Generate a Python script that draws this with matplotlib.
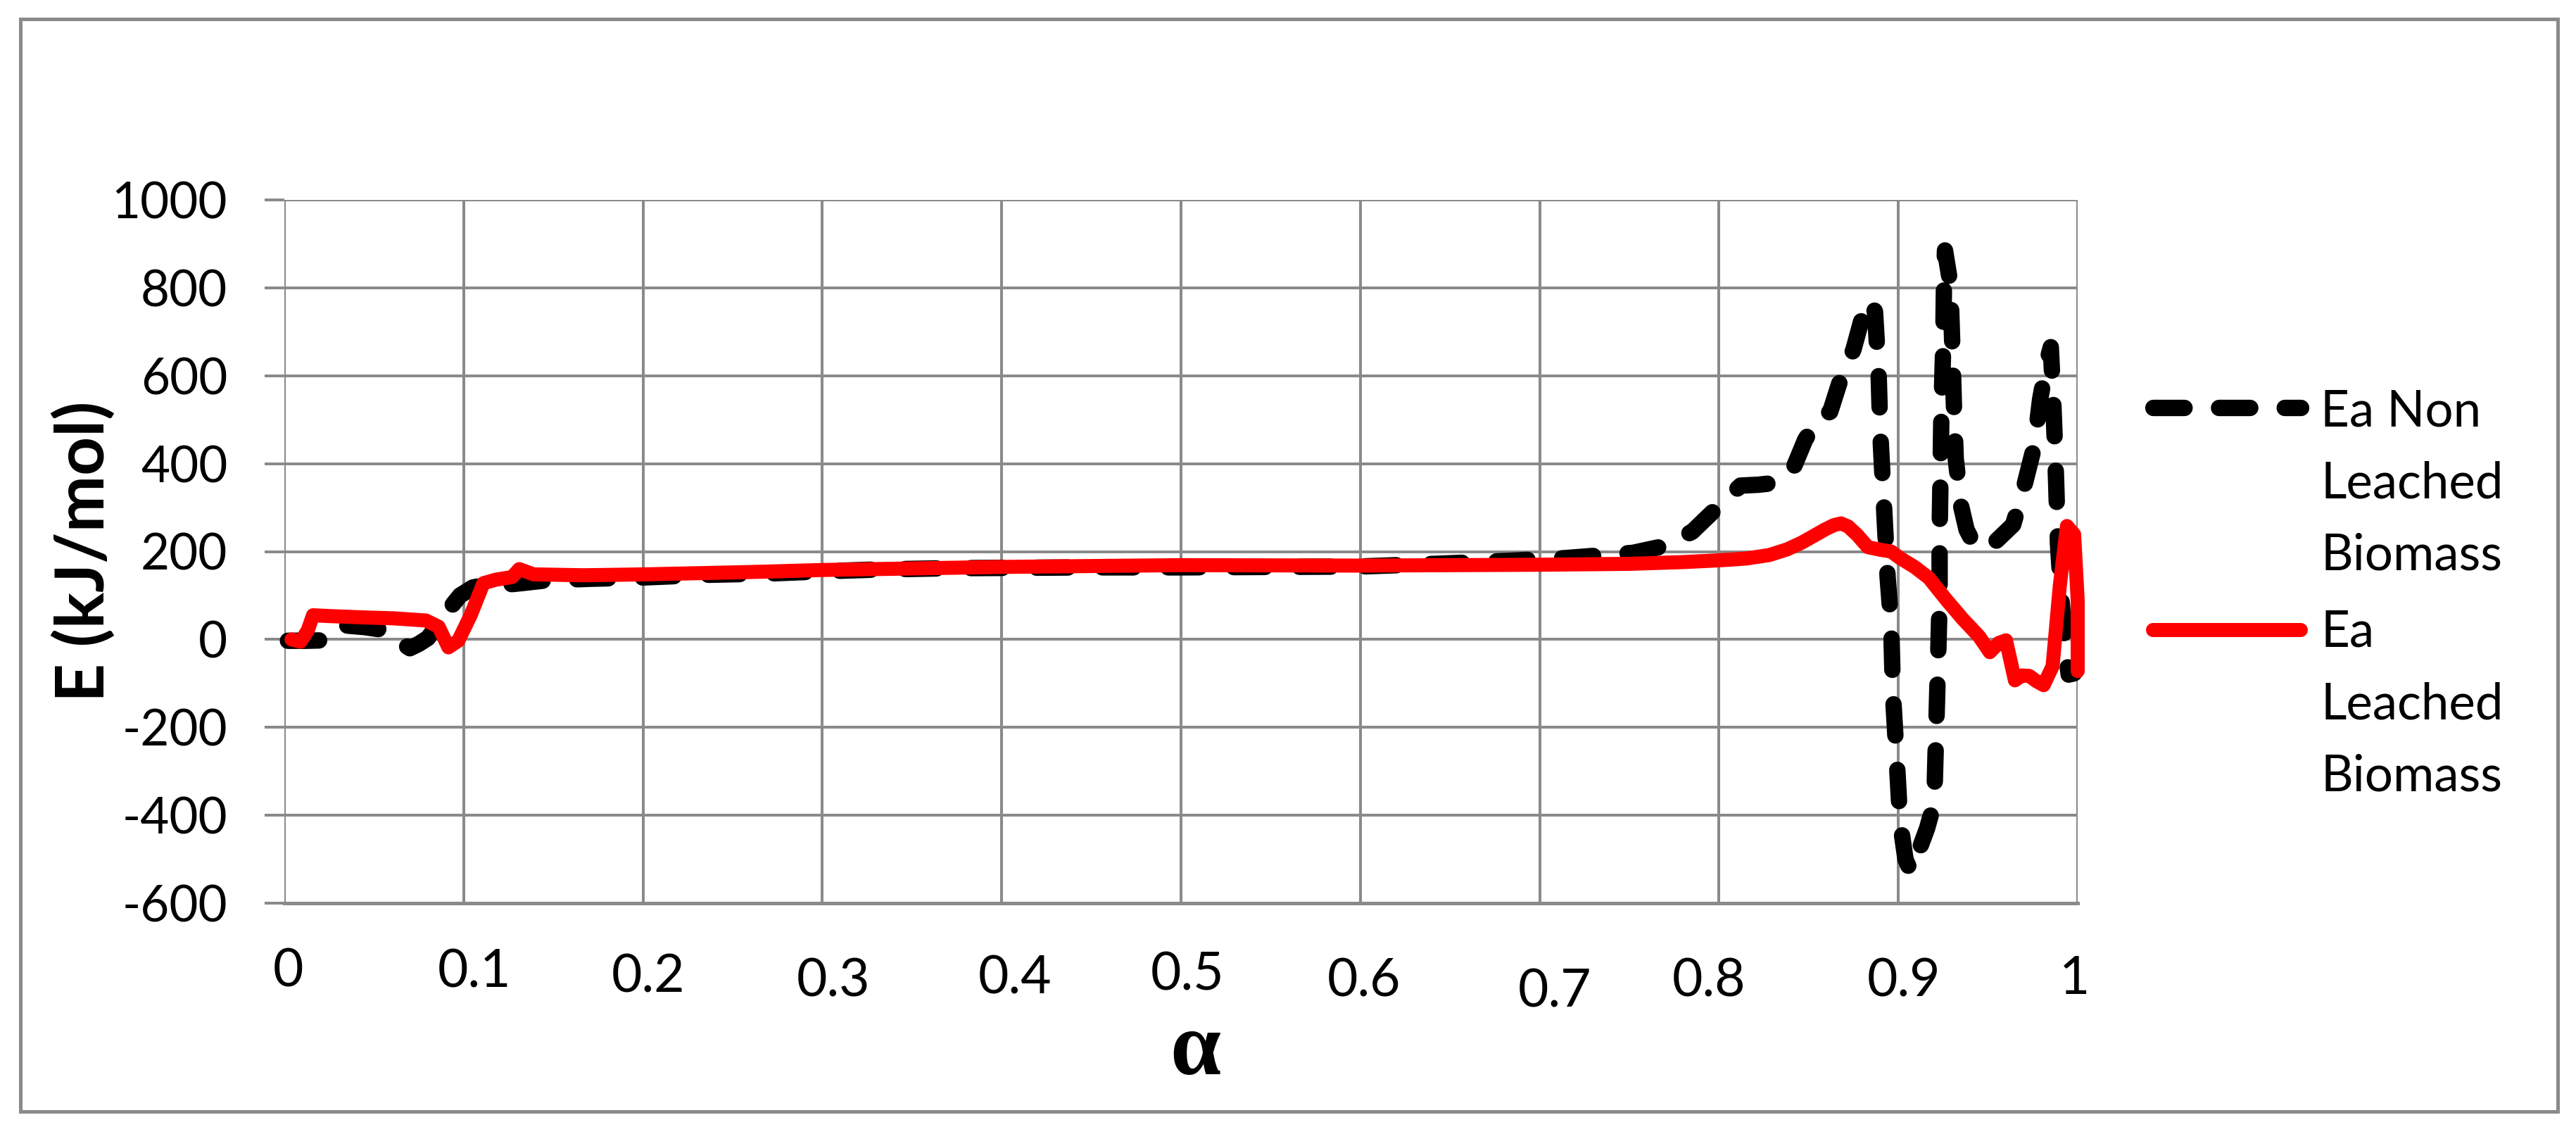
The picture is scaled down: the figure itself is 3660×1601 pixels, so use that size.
import numpy as np
import matplotlib
matplotlib.use('Agg')
import matplotlib.pyplot as plt
from matplotlib.lines import Line2D
from matplotlib.patches import Rectangle
from matplotlib.transforms import ScaledTranslation

# 数据
alpha_non = [0.002, 0.012, 0.022, 0.026, 0.031, 0.045, 0.055, 0.061, 0.066, 0.070, 0.075, 0.080,
             0.086, 0.092, 0.098, 0.105, 0.112, 0.122, 0.132, 0.145, 0.170, 0.200, 0.235,
             0.270, 0.300, 0.330, 0.370, 0.410, 0.450, 0.500, 0.550, 0.600, 0.642, 0.678,
             0.714, 0.752, 0.769, 0.785, 0.799, 0.812, 0.822, 0.833, 0.842, 0.848, 0.856,
             0.862, 0.867, 0.875, 0.880, 0.8845, 0.887, 0.889, 0.890, 0.892, 0.894, 0.896,
             0.897, 0.899, 0.901, 0.904, 0.907, 0.911, 0.916, 0.920, 0.921, 0.922, 0.923,
             0.923, 0.9235, 0.924, 0.925, 0.9255, 0.926, 0.929, 0.930, 0.931, 0.932, 0.935,
             0.938, 0.943, 0.953, 0.964, 0.970, 0.976, 0.979, 0.983, 0.985, 0.986, 0.987,
             0.988, 0.989, 0.991, 0.993, 0.995, 0.998]
E_non = [-3, -3, -2, 10, 33, 28, 22, 10, -10, -20, -10, 3,
         35, 70, 100, 118, 124, 124, 128, 134, 138, 141, 147,
         150, 155, 159, 162, 163, 164, 164, 165, 166, 172, 178,
         185, 197, 212, 245, 300, 350, 352, 357, 395, 454, 507,
         518, 582, 660, 735, 772, 745, 604, 464, 303, 143, 35,
         -125, -265, -415, -501, -528, -485, -430, -372, -222, -72, 89,
         239, 368, 518, 665, 830, 885, 810, 679, 529, 411, 303,
         250, 210, 218, 261, 346, 443, 545, 635, 665, 580, 475,
         357, 218, 89, -18, -80, -77]

alpha_leached = [0.004, 0.009, 0.013, 0.016, 0.026, 0.045, 0.061, 0.079, 0.086, 0.0915, 0.097,
                 0.104, 0.111, 0.118, 0.127, 0.131, 0.139, 0.167, 0.200, 0.234, 0.266, 0.300,
                 0.400, 0.500, 0.600, 0.700, 0.750, 0.780, 0.800, 0.815, 0.828, 0.838, 0.846,
                 0.853, 0.859, 0.864, 0.868, 0.872, 0.877, 0.883, 0.890, 0.896, 0.901, 0.909,
                 0.917, 0.927, 0.936, 0.945, 0.951, 0.956, 0.960, 0.965, 0.969, 0.973, 0.977,
                 0.981, 0.986, 0.990, 0.994, 0.998, 1.000, 1.000]
E_leached = [0, -5, 20, 55, 53, 50, 48, 43, 29, -18, -3,
             56, 128, 136, 142, 160, 148, 146, 148, 151, 154, 158,
             165, 169, 168, 170, 172, 176, 180, 184, 192, 205, 220,
             236, 250, 260, 264, 257, 238, 210, 204, 200, 185, 165,
             140, 89, 46, 7, -29, -8, -2, -93, -82, -83, -95,
             -104, -61, 121, 258, 239, 89, -72]

labels = ['Ea Non\nLeached\nBiomass', 'Ea\nLeached\nBiomass']

xticks = [0, 0.1, 0.2, 0.3, 0.4, 0.5, 0.6, 0.7, 0.8, 0.9, 1.0]
xtick_labels = ['0', '0.1', '0.2', '0.3', '0.4', '0.5', '0.6', '0.7', '0.8', '0.9', '1']
yticks = [-600, -400, -200, 0, 200, 400, 600, 800, 1000]

# 标签位置的偏移(像素)
xlab_dx = [5, 15, 7, 16, 19, 9, 5, 21, -14, 8, -4]
xlab_dy = [0, 1, 8, 14, 10, 5, 14, 29, 14, 14, 11]

W, H, DPI = 3660, 1601, 300
grid_c = '#8a8a8a'

plt.rcParams['font.family'] = ['Lato', 'DejaVu Sans']
plt.rcParams['axes.unicode_minus'] = False

fig = plt.figure(figsize=(W / DPI, H / DPI), dpi=DPI)
ax = fig.add_axes([404 / W, 1 - 1283 / H, (2952 - 404) / W, (1283 - 284) / H])

# 曲线
ax.plot(alpha_non, E_non, color='black', lw=5.6, linestyle=(0, (1.9, 2.1)),
        dash_capstyle='round', dash_joinstyle='round', zorder=3, clip_on=False)
ax.plot(alpha_leached, E_leached, color='#ff0000', lw=4.8,
        solid_capstyle='round', solid_joinstyle='round', zorder=4, clip_on=False)

ax.set_xlim(0, 1)
ax.set_ylim(-600, 1000)
ax.set_yticks(yticks)
ax.set_xticks(xticks, labels=xtick_labels)
ax.grid(True, color=grid_c, lw=0.96, zorder=0)
ax.set_axisbelow(True)

for s in ['top', 'right', 'left']:
    ax.spines[s].set_visible(False)
ax.spines['bottom'].set_color(grid_c)
ax.spines['bottom'].set_linewidth(1.2)

ax.tick_params(axis='y', length=6.7, width=0.96, color=grid_c, pad=12.7, labelsize=17)
ax.tick_params(axis='x', length=0, pad=14.9, labelsize=18)

# x轴标签错位
for lab, dx, dy in zip(ax.get_xticklabels(), xlab_dx, xlab_dy):
    lab.set_transform(lab.get_transform() + ScaledTranslation(dx / DPI, -dy / DPI, fig.dpi_scale_trans))

ax.set_ylabel('E (kJ/mol)', fontsize=23, fontweight='bold')
ax.yaxis.set_label_coords((119 - 404) / 2548, 0.5)
ax.yaxis.label.set_va('center')
ax.set_xlabel('α', fontsize=31, fontweight='bold', family=['Liberation Serif', 'DejaVu Serif'])
ax.xaxis.set_label_coords((1698 - 404) / 2548, (1283 - 1495) / 999)
ax.xaxis.label.set_va('center')

# 图例(手动)
fig.add_artist(Line2D([3059 / W, 3269 / W], [1 - 579 / H] * 2, color='black', lw=5.6,
                      linestyle=(0, (1.9, 2.1)), dash_capstyle='round'))
fig.add_artist(Line2D([3059 / W, 3269 / W], [1 - 895 / H] * 2, color='#ff0000', lw=4.8,
                      solid_capstyle='round'))
fig.text(3297 / W, 1 - 552 / H, labels[0], fontsize=17, va='top', ha='left', linespacing=1.7)
fig.text(3297 / W, 1 - 866 / H, labels[1], fontsize=17, va='top', ha='left', linespacing=1.7)

# 外框
fig.add_artist(Rectangle((29 / W, 1 - 1579 / H), (3634 - 29) / W, (1579 - 27) / H,
                         transform=fig.transFigure, fill=False, edgecolor=grid_c, lw=1.2))

fig.savefig('out.png', dpi=DPI)
